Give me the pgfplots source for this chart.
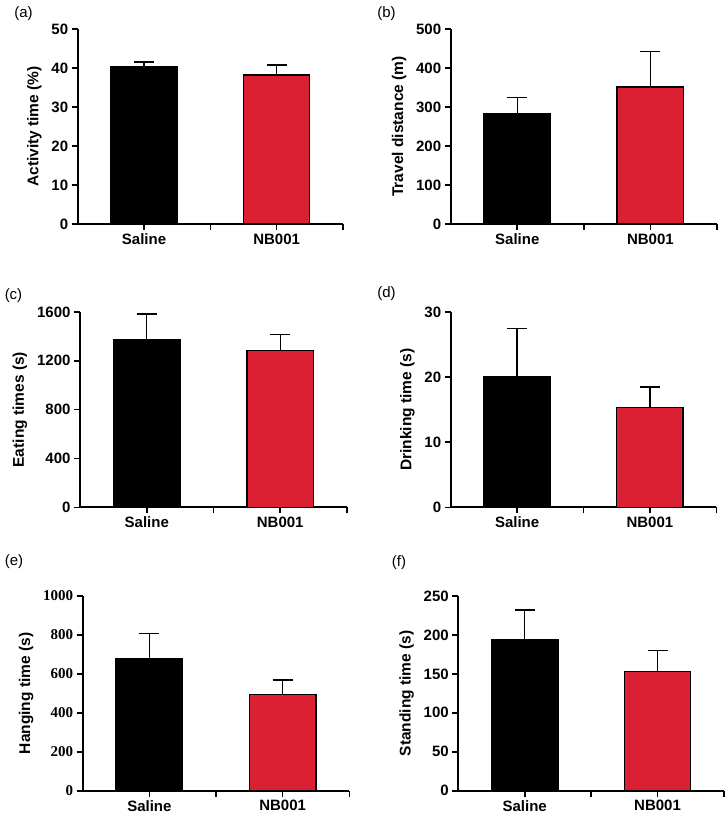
\documentclass[border=0pt]{standalone}
\usepackage{fontspec}
\setmainfont{Liberation Sans}
\newfontfamily\timesf{Liberation Serif}
\usepackage{pgfplots}
\pgfplotsset{compat=1.18}
\definecolor{nbred}{RGB}{220,32,52}
\pgfplotsset{
  gp/.style={
    scale only axis,
    axis lines=left,
    axis line style={-, line width=1.8pt},
    tick align=outside,
    major tick length=6pt,
    every tick/.style={black, line width=1.6pt},
    xmin=0.5, xmax=2.5, ymin=0,
    xtick={1,1.5,2,2.5},
    xticklabels={Saline,,NB001,},
    /pgf/number format/assume math mode=true,
    /pgf/number format/1000 sep={},
    tick label style={font=\fontsize{15}{17}\selectfont\bfseries},
    ylabel style={font=\fontsize{15.5}{17}\selectfont\bfseries, yshift=3pt},
    clip=false,
  },
  sal/.style={ybar, bar width=0.5, bar shift=0pt, fill=black, draw=black, line width=1.3pt,
    error bars/.cd, y dir=plus, y explicit, error mark=|,
    error bar style={line width=1.4pt, black},
    error mark options={black, mark size=10pt, line width=1.4pt}},
  nb/.style={ybar, bar width=0.5, bar shift=0pt, fill=nbred, draw=black, line width=1.3pt,
    error bars/.cd, y dir=plus, y explicit, error mark=|,
    error bar style={line width=1.4pt, black},
    error mark options={black, mark size=10pt, line width=1.4pt}},
}
\begin{document}
\begin{tikzpicture}
\useasboundingbox (0,0) rectangle (728pt,-817pt);
% (a)
\begin{axis}[gp, at={(77.7pt,-224pt)}, anchor=south west, width=265.3pt, height=195pt,
  ymax=50, ytick={0,10,...,50}, ylabel={Activity time (\%)}]
\addplot[sal] coordinates {(1,40.3) +- (0,1.2)};
\addplot[nb] coordinates {(2,38.2) +- (0,2.6)};
\end{axis}
% (b)
\begin{axis}[gp, at={(450.7pt,-224pt)}, anchor=south west, width=266.3pt, height=195pt,
  ymax=500, ytick={0,100,...,500}, ylabel={Travel distance (m)}]
\addplot[sal] coordinates {(1,282) +- (0,42)};
\addplot[nb] coordinates {(2,351) +- (0,91)};
\end{axis}
% (c)
\begin{axis}[gp, at={(80pt,-507.3pt)}, anchor=south west, width=267pt, height=195.3pt,
  ymax=1600, ytick={0,400,...,1600}, ylabel={Eating times (s)}]
\addplot[sal] coordinates {(1,1370) +- (0,213)};
\addplot[nb] coordinates {(2,1286) +- (0,131)};
\end{axis}
% (d)
\begin{axis}[gp, at={(450.7pt,-507.3pt)}, anchor=south west, width=265.6pt, height=195.3pt,
  ymax=30, ytick={0,10,20,30}, ylabel={Drinking time (s)}]
\addplot[sal] coordinates {(1,20.06) +- (0,7.44)};
\addplot[nb] coordinates {(2,15.36) +- (0,3.14)};
\end{axis}
% (e)
\begin{axis}[gp, at={(82.7pt,-790.7pt)}, anchor=south west, width=266.6pt, height=194.7pt,
  ymax=1000, ytick={0,200,...,1000}, ylabel={Hanging time (s)},
  yticklabel style={font=\fontsize{15}{17}\selectfont\timesf\bfseries}]
\addplot[sal] coordinates {(1,680) +- (0,128)};
\addplot[nb] coordinates {(2,493) +- (0,76)};
\end{axis}
% (f)
\begin{axis}[gp, at={(458.3pt,-790.7pt)}, anchor=south west, width=265.7pt, height=194.7pt,
  ymax=250, ytick={0,50,...,250}, ylabel={Standing time (s)}]
\addplot[sal] coordinates {(1,194.4) +- (0,37.6)};
\addplot[nb] coordinates {(2,152.8) +- (0,27)};
\end{axis}
\begin{scope}[every node/.style={font=\fontsize{15}{17}\selectfont, inner sep=0pt}]
\node at (23.5pt,-14pt) {(a)};
\node at (386.5pt,-14pt) {(b)};
\node at (13.5pt,-296pt) {(c)};
\node at (386.5pt,-294pt) {(d)};
\node at (14pt,-562pt) {(e)};
\node at (399pt,-563pt) {(f)};
\end{scope}
\end{tikzpicture}
\end{document}
